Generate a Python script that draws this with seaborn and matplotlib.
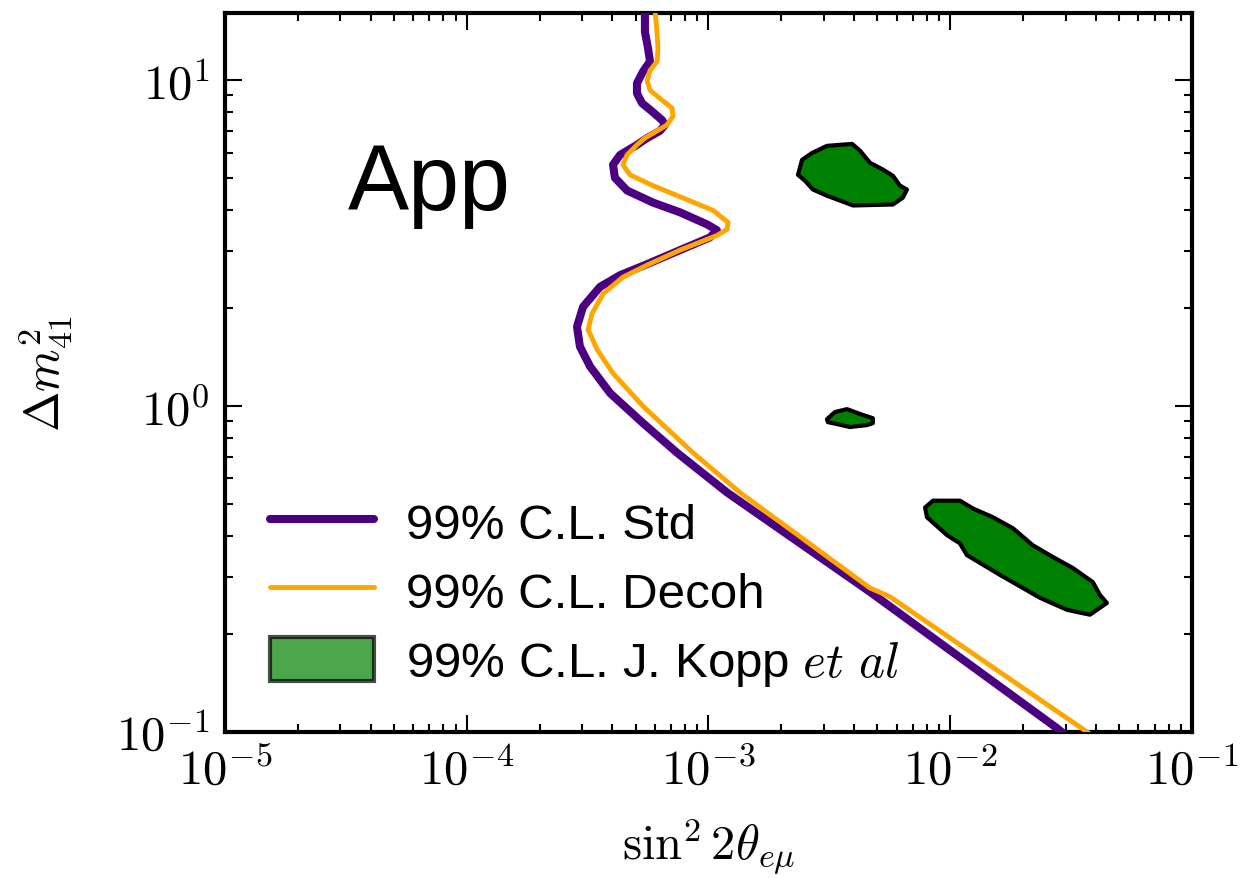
import numpy as np
import seaborn as sns
import matplotlib.pyplot as plt
from matplotlib.patches import Patch
from matplotlib.lines import Line2D
from matplotlib.ticker import FuncFormatter

# 99% C.L. Std curve (log10 sin^2 2theta, log10 dm^2)
std_lx = [-3.263, -3.263, -3.250, -3.242, -3.271, -3.296, -3.296, -3.275, -3.234, -3.192,
          -3.180, -3.201, -3.254, -3.296, -3.366, -3.395, -3.387, -3.337, -3.230, -3.118,
          -3.006, -2.965, -2.994, -3.118, -3.254, -3.366, -3.449, -3.519, -3.544, -3.532,
          -3.490, -3.407, -3.271, -3.130, -2.923, -2.332, -1.555, -1.52]
std_ly = [1.213, 1.149, 1.098, 1.058, 1.027, 0.991, 0.960, 0.930, 0.905, 0.878,
          0.863, 0.845, 0.823, 0.802, 0.771, 0.741, 0.701, 0.662, 0.625, 0.595,
          0.558, 0.540, 0.518, 0.479, 0.436, 0.402, 0.366, 0.305, 0.244, 0.183,
          0.122, 0.040, -0.052, -0.143, -0.265, -0.570, -0.990, -1.012]

# 99% C.L. Decoh curve
dec_lx = [-3.221, -3.213, -3.209, -3.213, -3.242, -3.254, -3.242, -3.192, -3.151, -3.147,
          -3.172, -3.213, -3.263, -3.296, -3.337, -3.354, -3.325, -3.230, -3.089, -2.981,
          -2.919, -2.923, -2.965, -3.118, -3.254, -3.354, -3.436, -3.482, -3.498, -3.461,
          -3.395, -3.271, -3.064, -2.870, -2.332, -2.249, -1.463, -1.422]
dec_ly = [1.213, 1.149, 1.098, 1.058, 1.030, 1.000, 0.970, 0.939, 0.915, 0.890,
          0.863, 0.845, 0.823, 0.802, 0.771, 0.741, 0.710, 0.677, 0.634, 0.601,
          0.564, 0.543, 0.524, 0.479, 0.433, 0.396, 0.345, 0.284, 0.235, 0.174,
          0.101, 0.000, -0.143, -0.265, -0.558, -0.585, -0.985, -1.006]

# J. Kopp et al 99% C.L. islands
isl1_lx = [-2.630, -2.613, -2.572, -2.510, -2.406, -2.373, -2.332, -2.278, -2.237, -2.208,
           -2.179, -2.196, -2.237, -2.402, -2.456, -2.510, -2.568, -2.601]
isl1_ly = [0.710, 0.756, 0.777, 0.799, 0.805, 0.784, 0.747, 0.726, 0.707, 0.677,
           0.665, 0.640, 0.619, 0.616, 0.631, 0.646, 0.665, 0.692]
isl2_lx = [-2.510, -2.477, -2.427, -2.373, -2.320, -2.320, -2.344, -2.415, -2.468, -2.506]
isl2_ly = [-0.040, -0.018, -0.009, -0.024, -0.037, -0.052, -0.058, -0.064, -0.055, -0.049]
isl3_lx = [-2.104, -2.071, -1.960, -1.906, -1.823, -1.740, -1.658, -1.575, -1.492, -1.410,
           -1.381, -1.352, -1.422, -1.517, -1.629, -1.794, -1.931, -1.960, -2.013, -2.096]
isl3_ly = [-0.311, -0.290, -0.290, -0.314, -0.341, -0.375, -0.427, -0.463, -0.497, -0.540,
           -0.579, -0.604, -0.640, -0.625, -0.588, -0.518, -0.457, -0.421, -0.396, -0.341]

sns.set_style("ticks", {'axes.edgecolor': 'black', 'text.color': 'black',
                        'xtick.color': 'black', 'ytick.color': 'black',
                        'axes.labelcolor': 'black'})
plt.rcParams['font.family'] = ['Liberation Sans', 'DejaVu Sans']
plt.rcParams['mathtext.fontset'] = 'cm'

fig = plt.figure(figsize=(12.42, 8.79), dpi=100)
ax = fig.add_axes([0.1812, 0.1661, 0.7785, 0.818])
ax.set_xscale('log')
ax.set_yscale('log')

for lx, ly in [(isl1_lx, isl1_ly), (isl2_lx, isl2_ly), (isl3_lx, isl3_ly)]:
    ax.fill(10**np.array(lx), 10**np.array(ly), facecolor='green', edgecolor='black',
            linewidth=3, joinstyle='round', zorder=2)

sns.lineplot(x=10**np.array(std_lx), y=10**np.array(std_ly), sort=False, estimator=None,
             color='#4b0082', linewidth=5.8, solid_joinstyle='round', ax=ax, zorder=3)
sns.lineplot(x=10**np.array(dec_lx), y=10**np.array(dec_ly), sort=False, estimator=None,
             color='orange', linewidth=3.5, solid_joinstyle='round', ax=ax, zorder=4)

ax.set_xlim(1e-5, 1e-1)
ax.set_ylim(0.1, 16.1)

for s in ax.spines.values():
    s.set_linewidth(3)
    s.set_visible(True)
fmt = FuncFormatter(lambda v, p: r'$10^{%d}$' % round(np.log10(v)))
ax.xaxis.set_major_formatter(fmt)
ax.yaxis.set_major_formatter(fmt)
ax.tick_params(which='both', direction='in', top=True, right=True, width=1.5, labelsize=35)
ax.tick_params(which='major', length=12, pad=11)
ax.tick_params(which='minor', length=6)

ax.set_xlabel(r'$\sin^2 2\theta_{e\mu}$', fontsize=35, labelpad=16)
ax.set_ylabel(r'$\Delta m^2_{41}$', fontsize=35, labelpad=30)

ax.text(0.127, 0.727, 'App', transform=ax.transAxes, fontsize=66, ha='left', va='baseline')

handles = [Line2D([], [], color='#4b0082', linewidth=5.8),
           Line2D([], [], color='orange', linewidth=3.5),
           Patch(facecolor='green', edgecolor='black', linewidth=3, alpha=0.7)]
labels = ['99% C.L. Std', '99% C.L. Decoh', r'99% C.L. J. Kopp $et\ al$']
ax.legend(handles, labels, loc='lower left', bbox_to_anchor=(0.001, 0.0), frameon=False,
          fontsize=35.5, handlelength=2.1, handleheight=1.0, handletextpad=0.65,
          labelspacing=0.4)

fig.savefig('out.png', dpi=100)
